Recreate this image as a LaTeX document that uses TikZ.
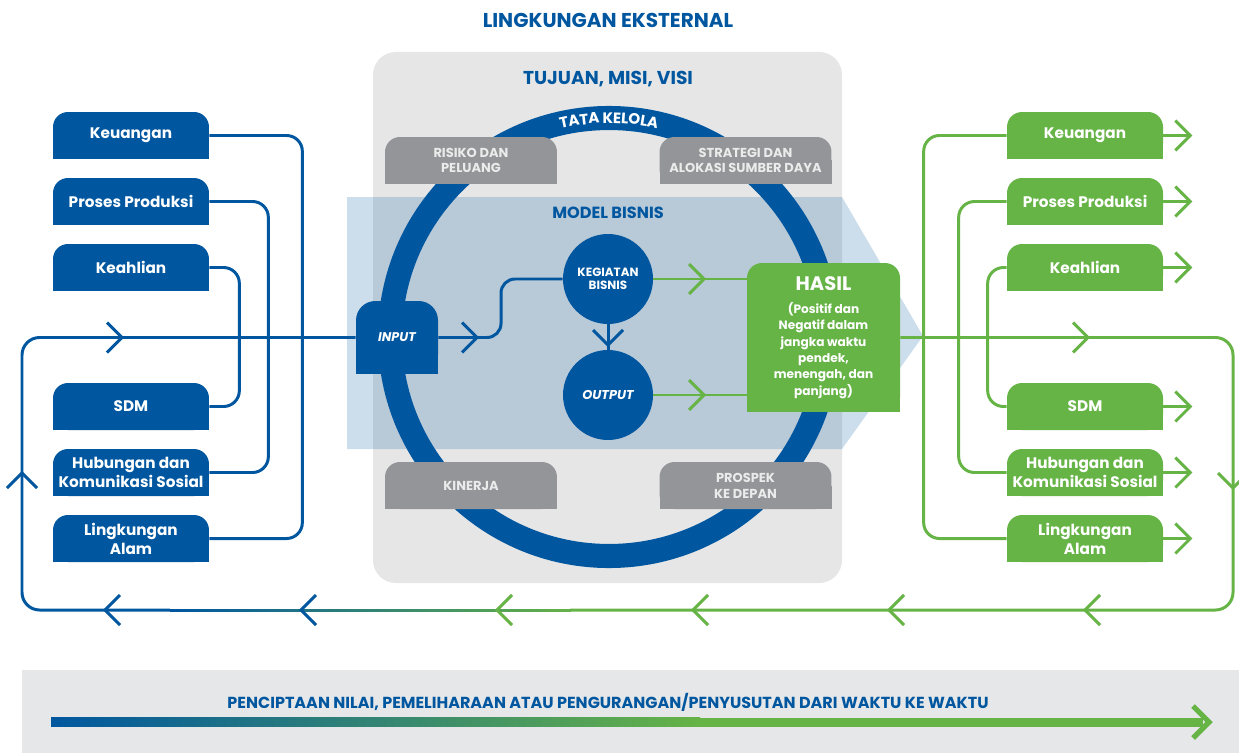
\documentclass[tikz,border=0pt]{standalone}
\usepackage{fontspec}
\setmainfont{Poppins}
\usetikzlibrary{positioning,decorations.text}

\definecolor{cblue}{RGB}{0,87,160}
\definecolor{cgreen}{RGB}{102,179,70}
\definecolor{cgrey}{RGB}{147,149,152}
\definecolor{cpanel}{RGB}{230,230,230}
\definecolor{cbar}{RGB}{230,231,232}

\tikzset{
    chev/.pic={\draw[line width=1.7pt] (-15,15) -- (0,0) -- (-15,-15);},
    bline/.style={cblue, line width=1.7pt},
    gline/.style={cgreen, line width=1.7pt},
    tab/.style={rounded corners=8.5pt, minimum width=3.12cm, minimum height=0.94cm, inner sep=0pt,
        text=white, align=center, font=\fontsize{8.7}{10.8}\selectfont\bfseries},
    greytab/.style={tab, fill=cgrey, minimum width=3.44cm, text=white!92!black,
        font=\fontsize{7.4}{9}\selectfont\bfseries},
}

\begin{document}
\begin{tikzpicture}[x=0.02cm, y=0.02cm]
    \useasboundingbox (0,0) rectangle (1239,-753);

    \node[cblue, font=\fontsize{11.4}{13}\selectfont\bfseries] (title) at (608,-20) {LINGKUNGAN EKSTERNAL};

    % panel
    \fill[cpanel, rounded corners=13pt] (373,-52) rectangle (842,-583);
    \node[cblue, font=\fontsize{10.6}{12}\selectfont\bfseries] (tmv) at (608,-79) {TUJUAN, MISI, VISI};

    % model bisnis band
    \fill[cblue, opacity=0.2] (347,-197) -- (842,-197) -- (923,-336) -- (842,-449) -- (347,-449) -- cycle;
    \node[cblue, font=\fontsize{9.2}{10}\selectfont\bfseries] (mb) at (608,-213) {MODEL BISNIS};

    % ring
    \draw[cblue, line width=13.7pt] (609,-337) circle (219);
    \path[decorate, decoration={text along path, text align=center, raise=-2.9pt, text color=white,
        text={|\fontsize{8.6}{10}\selectfont\bfseries|TATA KELOLA}}]
        (609,-337) ++(120:219) arc[start angle=120, end angle=60, radius=219];

    \foreach \x/\y/\t/\n in {471/160.5/{RISIKO DAN\\PELUANG}/rp, 745.5/160.5/{STRATEGI DAN\\ALOKASI SUMBER DAYA}/sa,
                             471/485.5/KINERJA/kin, 745.5/485.5/{PROSPEK\\KE DEPAN}/pkd}{
        \fill[cgrey] (\x-86,-\y) rectangle (\x+86,-\y-23.5);
        \node[greytab] (\n) at (\x,-\y) {\t};
    }

    % capitals, left and right
    \foreach \y/\t [count=\i] in {135.5/Keuangan, 201.5/{Proses Produksi}, 267.5/Keahlian, 406.5/SDM,
                                  472.5/{Hubungan dan\\Komunikasi Sosial}, 538.5/{Lingkungan\\Alam}}{
        \fill[cblue] (53,-\y) rectangle (209,-\y-23.5);
        \node[tab, fill=cblue] (l\i) at (131,-\y) {\t};
        \fill[cgreen] (1007,-\y) rectangle (1163,-\y-23.5);
        \node[tab, fill=cgreen] (r\i) at (1085,-\y) {\t};
        \draw[gline] (r\i.east) -- ++(27,0) pic[cgreen] {chev};
    }

    \draw[bline, rounded corners=9pt] (l1.east) -- ++(93,0) |- (l6.east);
    \draw[bline, rounded corners=9pt] (l2.east) -- ++(59,0) |- (l5.east);
    \draw[bline, rounded corners=9pt] (l3.east) -- ++(30,0) |- (l4.east);
    \draw[gline, rounded corners=9pt] (r1.west) -- ++(-83,0) |- (r6.west);
    \draw[gline, rounded corners=9pt] (r2.west) -- ++(-48,0) |- (r5.west);
    \draw[gline, rounded corners=9pt] (r3.west) -- ++(-19,0) |- (r4.west);

    % model
    \fill[cblue] (356,-337.5) rectangle (438,-374);
    \node[tab, fill=cblue, rounded corners=11pt, minimum width=1.64cm, minimum height=1.46cm,
        font=\fontsize{7.2}{9}\selectfont\bfseries\itshape] (input) at (397,-337.5) {INPUT};
    \node[circle, fill=cblue, minimum size=1.8cm, text=white, align=center,
        font=\fontsize{6.8}{7.6}\selectfont\bfseries] (keg) at (608,-279) {KEGIATAN\\BISNIS};
    \node[circle, fill=cblue, minimum size=1.8cm, text=white,
        font=\fontsize{7.3}{9}\selectfont\bfseries\itshape] (out) at (608,-395) {OUTPUT};
    \fill[cgreen] (747,-337.5) rectangle (900,-412);
    \node[tab, fill=cgreen, minimum width=3.06cm, minimum height=2.98cm,
        font=\fontsize{6.9}{9.3}\selectfont\bfseries] (hasil) at (823.5,-337.5)
        {{\fontsize{11.1}{13}\selectfont HASIL}\\[4pt](Positif dan\\Negatif dalam\\jangka waktu\\pendek,\\menengah, dan\\panjang)};

    \draw[bline, rounded corners=8pt] (input.east) -- (501,-337.5) |- (keg.west);
    \draw[bline] (keg.south) -- (out.north);
    \draw[gline] (keg.east) -- (keg.east -| hasil.west);
    \draw[gline] (out.east) -- (out.east -| hasil.west);

    % the loop round
    \coordinate (lt) at (22,-337.5);
    \coordinate (lb) at (22,-610);
    \coordinate (rb) at (1233,-610);
    \coordinate (rt) at (1233,-337.5);
    \coordinate (gs) at (570,-610);
    \coordinate (bs) at (170,-610);
    \draw[gline, rounded corners=10pt] (hasil.east) -- (rt) -- (rb) -- (gs);
    \draw[bline, rounded corners=10pt] (bs) -- (lb) -- (lt) -- (input.west);
    % blue to green, bit by bit
    \foreach \i [evaluate=\i as \p using 2.5*\i] in {0,...,39}
        \draw[line width=1.7pt, cgreen!\p!cblue] (170+10*\i,-610) -- (181+10*\i,-610);

    \pic[cblue] at (122,-337.5) {chev};
    \pic[cblue, rotate=90] at (22,-473) {chev};
    \foreach \x in {105, 301}
        \pic[cblue, rotate=180] at (\x,-610) {chev};
    \foreach \x in {497, 693, 889, 1085}
        \pic[cgreen, rotate=180] at (\x,-610) {chev};
    \pic[cgreen, rotate=-90] at (1233,-488) {chev};
    \pic[cgreen] at (1088,-337.5) {chev};
    \pic[cblue] at (477,-337.5) {chev};
    \pic[cblue, rotate=-90] at (608,-345) {chev};
    \pic[cgreen] at (704,-279) {chev};
    \pic[cgreen] at (704,-395) {chev};

    % time bar
    \fill[cbar] (22,-670) rectangle (1239,-753);
    \node[cblue, font=\fontsize{9.1}{10}\selectfont\bfseries] (pn) at (608,-702)
        {PENCIPTAAN NILAI, PEMELIHARAAN ATAU PENGURANGAN/PENYUSUTAN DARI WAKTU KE WAKTU};
    \shade[left color=cblue, right color=cgreen] (51,-717.5) rectangle (700,-726.5);
    \fill[cgreen] (700,-717.5) rectangle (1203,-726.5);
    \draw[cgreen, line width=3pt] (1193,-706) -- (1209,-722) -- (1193,-738);
\end{tikzpicture}
\end{document}
